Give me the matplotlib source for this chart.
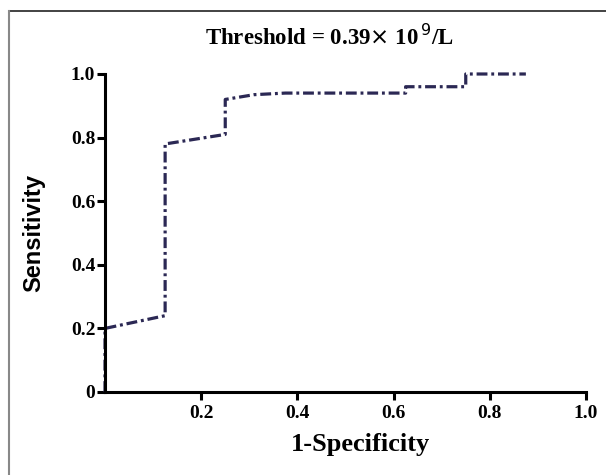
import matplotlib
matplotlib.use('Agg')
import matplotlib.pyplot as plt
from matplotlib.lines import Line2D

# ROC curve points
fpr = [0, 0, 0.125, 0.125, 0.25, 0.25, 0.31, 0.375, 0.625, 0.625, 0.75, 0.75, 0.875]
tpr = [0, 0.20, 0.24, 0.78, 0.81, 0.92, 0.935, 0.94, 0.94, 0.96, 0.96, 1.0, 1.0]

xticks = [0.2, 0.4, 0.6, 0.8, 1.0]
yticks = [0, 0.2, 0.4, 0.6, 0.8, 1.0]
ytick_labels = ['0', '0.2', '0.4', '0.6', '0.8', '1.0']

serif = ['Liberation Serif', 'DejaVu Serif']
sans = ['Liberation Sans', 'DejaVu Sans']

fig = plt.figure(figsize=(6.06, 4.75), dpi=100)
ax = fig.add_axes([105/606, 1 - 392/475, 481/606, 318/475])

ax.plot(fpr, tpr, color='#2b2854', lw=2.3, dashes=(3.4, 1.2, 0.9, 1.2),
        solid_capstyle='butt', dash_capstyle='butt', clip_on=False)

ax.set_xlim(0, 1.0)
ax.set_ylim(0, 1.0)
for s in ['top', 'right']:
  ax.spines[s].set_visible(False)
for s in ['left', 'bottom']:
  ax.spines[s].set_linewidth(2.2)

ax.set_xticks(xticks)
ax.set_xticklabels([f'{v:.1f}' for v in xticks], fontfamily=serif, fontweight='bold', fontsize=14)
ax.set_yticks(yticks)
ax.set_yticklabels(ytick_labels, fontfamily=serif, fontweight='bold', fontsize=14)
ax.tick_params(axis='both', direction='out', length=6, width=2.2, pad=1)
ax.tick_params(axis='x', pad=3)

ax.set_xlabel('1-Specificity', fontfamily=serif, fontweight='bold', fontsize=19)
ax.xaxis.set_label_coords(0.532, -0.13)
ax.set_ylabel('Sensitivity', fontfamily=sans, fontweight='bold', fontsize=17)
ax.yaxis.set_label_coords(-0.125, 0.5)

fig.text(0.543, 1 - 37/475, r'Threshold = 0.39$\times$ 10$^{\,9}$/L', ha='center', va='center',
         fontfamily=serif, fontweight='bold', fontsize=16.5)

# frame lines of the original image
fig.add_artist(Line2D([9/606, 1], [1 - 11/475, 1 - 11/475], transform=fig.transFigure, color='#222222', lw=1.2))
fig.add_artist(Line2D([9/606, 9/606], [0, 1 - 11/475], transform=fig.transFigure, color='#888888', lw=1.5))

fig.savefig('out.png', dpi=100)
